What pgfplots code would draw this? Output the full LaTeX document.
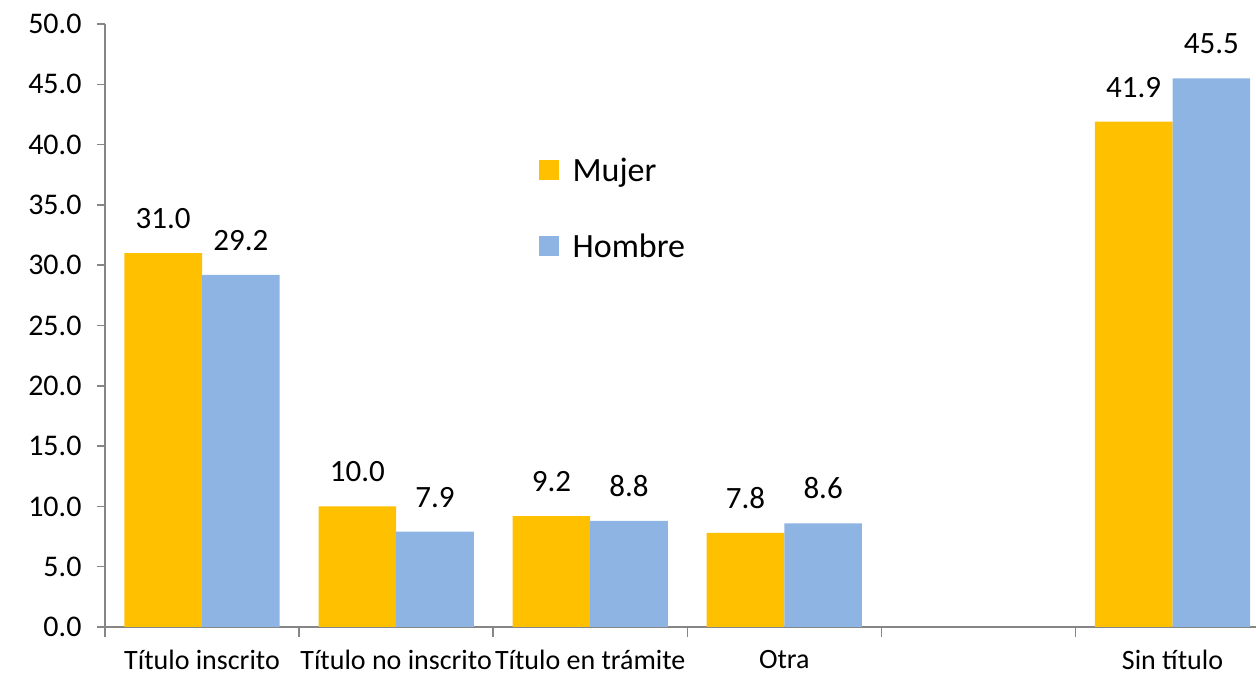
\documentclass[border=0pt]{standalone}
\usepackage{pgfplots}
\pgfplotsset{compat=1.18}
\usepackage{fontspec}
\setmainfont{Carlito}
\definecolor{cMujer}{HTML}{FFC000}
\definecolor{cHombre}{HTML}{8EB4E3}
\definecolor{axgray}{HTML}{868686}
\begin{document}
\begin{tikzpicture}[x=1pt,y=1pt]
\path[use as bounding box] (0,0) rectangle (1256,679);
\begin{axis}[
  at={(105pt,52pt)}, anchor=south west,
  scale only axis, width=1151pt, height=603pt,
  xmin=-0.5, xmax=5.43, ymin=0, ymax=50,
  axis lines*=left,
  axis line style={axgray, line width=1.5pt},
  every tick/.style={axgray, line width=1.5pt},
  tick align=outside,
  xtick={0,1,2,3,4,5},
  xticklabels={Título inscrito, Título no inscrito, Título en trámite, Otra, {}, Sin título},
  major x tick style={draw=none},
  minor xtick={-0.5,0.5,1.5,2.5,3.5,4.5},
  minor tick length=10pt,
  major tick length=8pt,
  xticklabel style={font=\fontsize{28}{32}\selectfont, yshift=-12pt},
  ytick={0,5,...,50},
  yticklabel style={font=\fontsize{30}{34}\selectfont, xshift=-12pt},
  /pgf/number format/assume math mode=true,
  yticklabel={\pgfmathprintnumber[fixed,fixed zerofill,precision=1]{\tick}},
  ybar=0pt, bar width=0.4,
  nodes near coords,
  every node near coord/.append style={font=\fontsize{31}{34}\selectfont, anchor=south, inner sep=0pt, yshift=24pt},
  nodes near coords style={/pgf/number format/.cd, fixed, fixed zerofill, precision=1, assume math mode=true},
  legend style={at={(0.374,0.785)}, anchor=north west, draw=none, fill=none,
    font=\fontsize{34}{38}\selectfont, row sep=47pt,
    /tikz/every odd column/.append style={column sep=12pt}},
  legend cell align=left,
  legend image code/.code={\fill[#1] (0pt,-10pt) rectangle (20pt,10pt);},
]
\addplot[fill=cMujer, draw=none] coordinates {(0,31.0) (1,10.0) (2,9.2) (3,7.8) (5,41.9)};
\addplot[fill=cHombre, draw=none] coordinates {(0,29.2) (1,7.9) (2,8.8) (3,8.6) (5,45.5)};
\legend{Mujer, Hombre}
\end{axis}
\end{tikzpicture}
\end{document}
